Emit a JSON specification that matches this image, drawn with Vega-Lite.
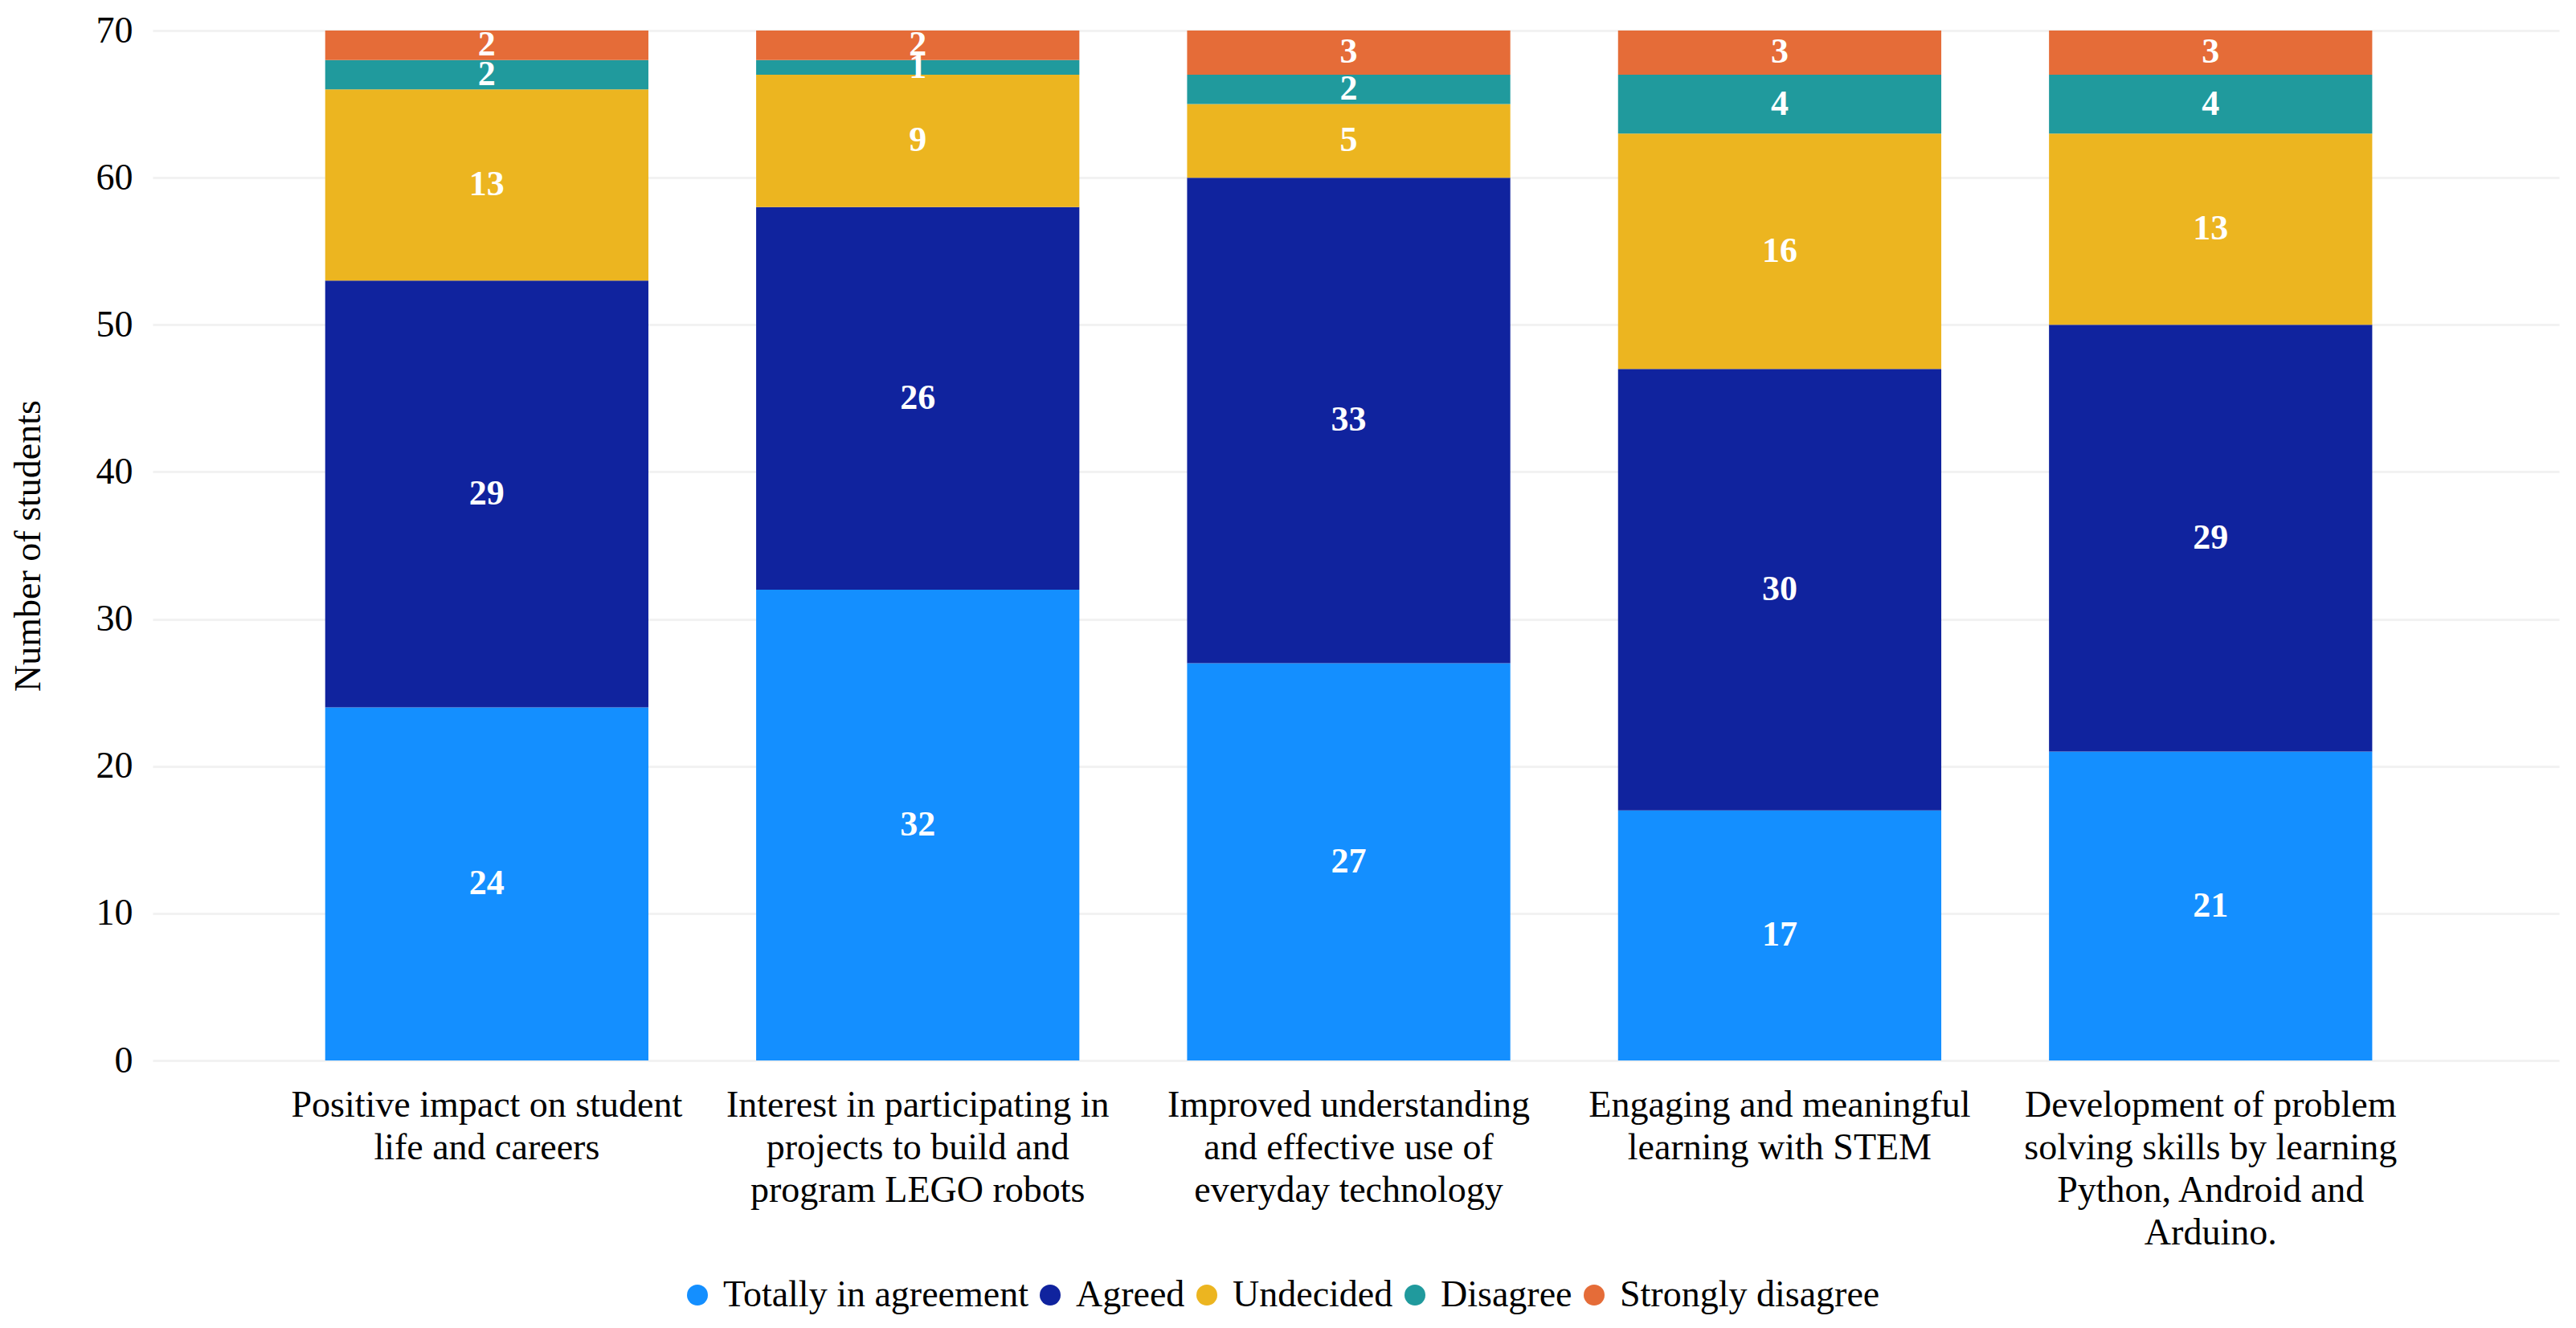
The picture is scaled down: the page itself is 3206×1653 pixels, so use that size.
{
  "$schema": "https://vega.github.io/schema/vega-lite/v6.json",
  "autosize": {"type": "none"},
  "width": 2995,
  "height": 1282,
  "padding": {"left": 190, "top": 38, "right": 21, "bottom": 333},
  "background": "white",
  "config": {
    "font": "Liberation Serif",
    "view": {"stroke": null},
    "axis": {"labelFont": "Liberation Serif", "titleFont": "Liberation Serif", "labelColor": "#000000", "titleColor": "#000000"},
    "legend": {"labelFont": "Liberation Serif", "labelColor": "#000000"}
  },
  "data": {
    "values": [
      {"item": "Positive impact on student life and careers", "response": "Totally in agreement", "rank": 1, "students": 24},
      {"item": "Positive impact on student life and careers", "response": "Agreed", "rank": 2, "students": 29},
      {"item": "Positive impact on student life and careers", "response": "Undecided", "rank": 3, "students": 13},
      {"item": "Positive impact on student life and careers", "response": "Disagree", "rank": 4, "students": 2},
      {"item": "Positive impact on student life and careers", "response": "Strongly disagree", "rank": 5, "students": 2},
      {"item": "Interest in participating in projects to build and program LEGO robots", "response": "Totally in agreement", "rank": 1, "students": 32},
      {"item": "Interest in participating in projects to build and program LEGO robots", "response": "Agreed", "rank": 2, "students": 26},
      {"item": "Interest in participating in projects to build and program LEGO robots", "response": "Undecided", "rank": 3, "students": 9},
      {"item": "Interest in participating in projects to build and program LEGO robots", "response": "Disagree", "rank": 4, "students": 1},
      {"item": "Interest in participating in projects to build and program LEGO robots", "response": "Strongly disagree", "rank": 5, "students": 2},
      {"item": "Improved understanding and effective use of everyday technology", "response": "Totally in agreement", "rank": 1, "students": 27},
      {"item": "Improved understanding and effective use of everyday technology", "response": "Agreed", "rank": 2, "students": 33},
      {"item": "Improved understanding and effective use of everyday technology", "response": "Undecided", "rank": 3, "students": 5},
      {"item": "Improved understanding and effective use of everyday technology", "response": "Disagree", "rank": 4, "students": 2},
      {"item": "Improved understanding and effective use of everyday technology", "response": "Strongly disagree", "rank": 5, "students": 3},
      {"item": "Engaging and meaningful learning with STEM", "response": "Totally in agreement", "rank": 1, "students": 17},
      {"item": "Engaging and meaningful learning with STEM", "response": "Agreed", "rank": 2, "students": 30},
      {"item": "Engaging and meaningful learning with STEM", "response": "Undecided", "rank": 3, "students": 16},
      {"item": "Engaging and meaningful learning with STEM", "response": "Disagree", "rank": 4, "students": 4},
      {"item": "Engaging and meaningful learning with STEM", "response": "Strongly disagree", "rank": 5, "students": 3},
      {"item": "Development of problem solving skills by learning Python, Android and Arduino.", "response": "Totally in agreement", "rank": 1, "students": 21},
      {"item": "Development of problem solving skills by learning Python, Android and Arduino.", "response": "Agreed", "rank": 2, "students": 29},
      {"item": "Development of problem solving skills by learning Python, Android and Arduino.", "response": "Undecided", "rank": 3, "students": 13},
      {"item": "Development of problem solving skills by learning Python, Android and Arduino.", "response": "Disagree", "rank": 4, "students": 4},
      {"item": "Development of problem solving skills by learning Python, Android and Arduino.", "response": "Strongly disagree", "rank": 5, "students": 3}
    ]
  },
  "encoding": {
    "x": {
      "field": "item",
      "type": "nominal",
      "sort": null,
      "scale": {"paddingInner": 0.25, "paddingOuter": 0.417, "align": 0.48},
      "axis": {
        "title": null,
        "labelAngle": 0,
        "labelFont": "Liberation Serif",
        "labelFontSize": 46,
        "labelLineHeight": 53,
        "labelBaseline": "top",
        "labelPadding": 33,
        "labelLimit": 0,
        "ticks": false,
        "domain": false,
        "grid": false,
        "labelExpr": "datum.value == 'Positive impact on student life and careers' ? ['Positive impact on student', 'life and careers'] : datum.value == 'Interest in participating in projects to build and program LEGO robots' ? ['Interest in participating in', 'projects to build and', 'program LEGO robots'] : datum.value == 'Improved understanding and effective use of everyday technology' ? ['Improved understanding', 'and effective use of', 'everyday technology'] : datum.value == 'Engaging and meaningful learning with STEM' ? ['Engaging and meaningful', 'learning with STEM'] : ['Development of problem', 'solving skills by learning', 'Python, Android and', 'Arduino.']"
      }
    },
    "y": {
      "field": "students",
      "type": "quantitative",
      "stack": "zero",
      "scale": {"domain": [0, 70], "nice": false},
      "axis": {
        "title": "Number of students",
        "titleFont": "Liberation Serif",
        "titleFontSize": 46,
        "titleFontWeight": "normal",
        "titleX": -155,
        "titleY": 641,
        "titleAngle": -90,
        "titleAlign": "center",
        "titleBaseline": "middle",
        "labelFont": "Liberation Serif",
        "labelFontSize": 46,
        "labelPadding": 25,
        "labelOverlap": false,
        "labelFlush": false,
        "ticks": false,
        "domain": false,
        "values": [0, 10, 20, 30, 40, 50, 60, 70],
        "gridColor": "#F2F2F2",
        "gridWidth": 3
      }
    },
    "order": {"field": "rank", "type": "quantitative"}
  },
  "layer": [
    {
      "mark": {"type": "bar"},
      "encoding": {
        "color": {
          "field": "response",
          "type": "nominal",
          "scale": {
            "domain": ["Totally in agreement", "Agreed", "Undecided", "Disagree", "Strongly disagree"],
            "range": ["#148FFF", "#10239E", "#ECB520", "#209A9D", "#E56C38"]
          },
          "legend": {
            "title": null,
            "orient": "none",
            "direction": "horizontal",
            "legendX": 655,
            "legendY": 1551,
            "symbolType": "circle",
            "symbolSize": 676,
            "symbolStrokeWidth": 0,
            "labelFont": "Liberation Serif",
            "labelFontSize": 46,
            "labelColor": "#000000",
            "labelLimit": 0,
            "labelOffset": 9,
            "columnPadding": 4,
            "padding": 0
          }
        }
      }
    },
    {
      "mark": {"type": "text", "color": "white", "fontWeight": "bold", "fontSize": 44, "baseline": "middle", "align": "center", "font": "Liberation Serif"},
      "encoding": {
        "y": {"field": "students", "type": "quantitative", "stack": "zero", "bandPosition": 0.5},
        "text": {"field": "students", "type": "quantitative"}
      }
    }
  ]
}
